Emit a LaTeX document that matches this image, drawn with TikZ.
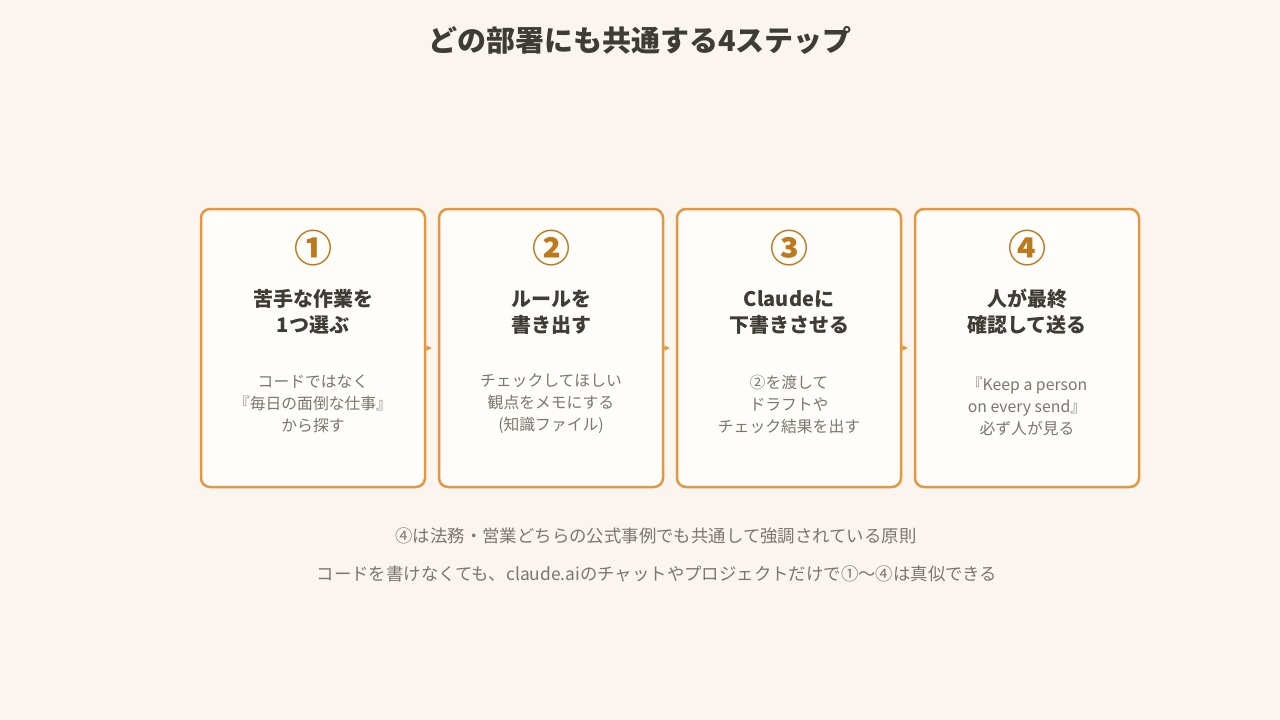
\documentclass[tikz,border=0pt]{standalone}
\usepackage{fontspec}
\setmainfont{Noto Sans CJK JP}
\usetikzlibrary{arrows}
\definecolor{bgpaper}{HTML}{FAF6EF}
\definecolor{boxfill}{HTML}{FEFDF9}
\definecolor{boxline}{HTML}{E3973F}
\definecolor{numcol}{HTML}{BC7A1E}
\definecolor{inkdark}{HTML}{3F3B36}
\definecolor{inkgray}{HTML}{7B766F}
\tikzstyle{stepbox} = [rectangle, rounded corners=9pt, minimum width=224pt, minimum height=278pt, draw=boxline, line width=2.5pt, fill=boxfill]
\tikzstyle{stepnum} = [text=numcol, font=\fontsize{38}{42}\selectfont\bfseries]
\tikzstyle{steptitle} = [align=center, text=inkdark, font=\fontsize{20}{26}\selectfont\bfseries]
\tikzstyle{stepdesc} = [align=center, text=inkgray, font=\fontsize{15.8}{22}\selectfont]
\tikzstyle{note} = [text=inkgray, font=\fontsize{17.4}{20}\selectfont]
\tikzstyle{arrow} = [draw=boxline, line width=1.5pt, ->, >=stealth, shorten >=6pt]

\begin{document}
\begin{tikzpicture}[x=1pt, y=-1pt]
					\fill[bgpaper] (0,0) rectangle (1280,720);
					\useasboundingbox (0,0) rectangle (1280,720);
					\node[text=inkdark, font=\fontsize{29}{34}\selectfont\bfseries] (heading) at (640,40) {どの部署にも共通する4ステップ};
					\node[stepbox] (box1) at (313,348) {};
					\node[stepbox] (box2) at (551,348) {};
					\node[stepbox] (box3) at (789,348) {};
					\node[stepbox] (box4) at (1027,348) {};
					\draw[arrow] (box1) -- (box2);
					\draw[arrow] (box2) -- (box3);
					\draw[arrow] (box3) -- (box4);
					\node[stepnum] (num1) at (313,248) {①};
					\node[stepnum] (num2) at (551,248) {②};
					\node[stepnum] (num3) at (789,248) {③};
					\node[stepnum] (num4) at (1027,248) {④};
					\node[steptitle] (title1) at (313,312) {苦手な作業を\\1つ選ぶ};
					\node[steptitle] (title2) at (551,312) {ルールを\\書き出す};
					\node[steptitle] (title3) at (789,312) {Claudeに\\下書きさせる};
					\node[steptitle] (title4) at (1027,312) {人が最終\\確認して送る};
					\node[stepdesc] (desc1) at (313,404) {コードではなく\\『毎日の面倒な仕事』\\から探す};
					\node[stepdesc] (desc2) at (551,404) {チェックしてほしい\\観点をメモにする\\(知識ファイル)};
					\node[stepdesc] (desc3) at (789,404) {②を渡して\\ドラフトや\\チェック結果を出す};
					\node[stepdesc] (desc4) at (1027,406) {『Keep a person\\on every send』\\必ず人が見る};
					\node[note] (note1) at (656,536) {④は法務・営業どちらの公式事例でも共通して強調されている原則};
					\node[note] (note2) at (657,574) {コードを書けなくても、claude.aiのチャットやプロジェクトだけで①〜④は真似できる};
					\end{tikzpicture}
\end{document}
